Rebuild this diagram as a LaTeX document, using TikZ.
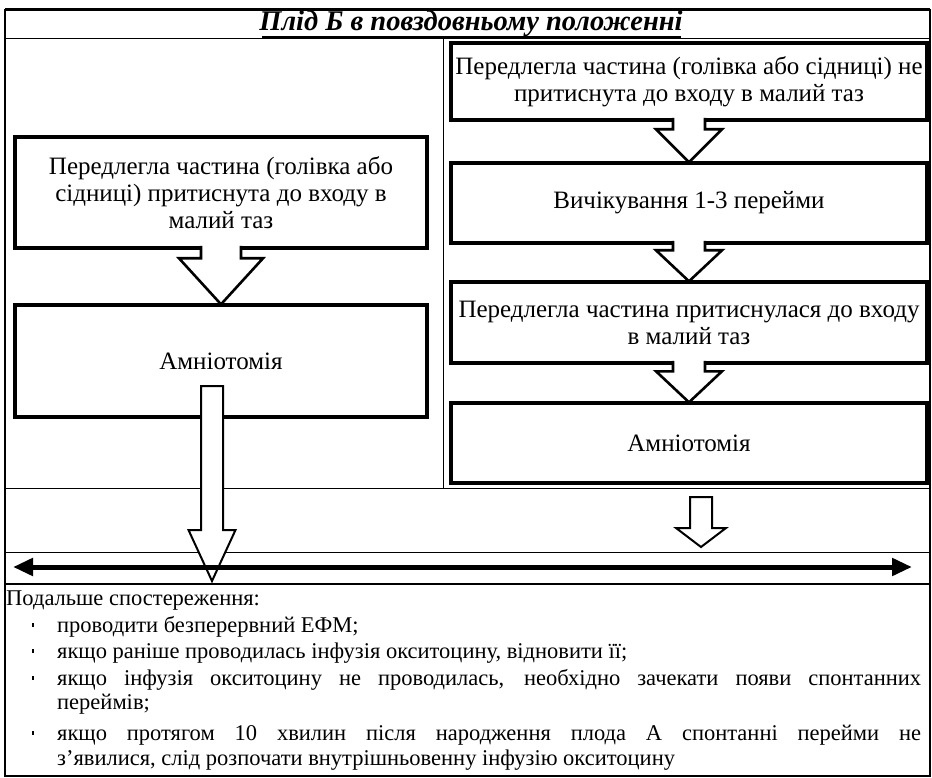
\documentclass[tikz,border=0pt]{standalone}
\usepackage{fontspec}
\setmainfont{Liberation Serif}
\usetikzlibrary{calc,arrows.meta}
\tikzset{
  box/.style={draw, line width=3.4pt, fill=white, align=center,
    font=\fontsize{25}{27}\selectfont, inner sep=2pt},
  barrow/.style={draw, line width=2.6pt, fill=white, line join=miter},
  rule/.style={line width=1pt},
  bodytext/.style={anchor=base west, inner sep=0pt, font=\fontsize{22.5}{26}\selectfont},
  bul/.style={fill, minimum width=2.6pt, minimum height=3.2pt, inner sep=0pt},
}
\newcommand\blockarr[5]{%
  \draw[barrow] ($(#1.south)+(-#3,-3.8)$) -- ($(#2.north)+(-#3,-#5)$) -- ($(#2.north)+(-#4,-#5)$)
    -- ($(#2.north)+(0,1)$) -- ($(#2.north)+(#4,-#5)$) -- ($(#2.north)+(#3,-#5)$) -- ($(#1.south)+(#3,-3.8)$);
}
\begin{document}
\begin{tikzpicture}[x=1pt,y=-1pt]
\useasboundingbox[fill=white] (0,0) rectangle (932,778);
% frame and rules
\draw[line width=1.2pt] (5,10) rectangle (930,776);
\draw[line width=3pt] (5,10) -- (930,10);
\draw[rule] (5,39) -- (930,39);
\draw[rule] (443,39) -- (443,488);
\draw[rule] (5,488) -- (930,488);
\draw[rule] (5,552) -- (930,552);
\draw[line width=2pt] (5,584) -- (930,584);
% title
\node[inner sep=0pt, font=\bfseries\itshape\fontsize{28.5}{32}\selectfont] (title) at (471,24) {Плід Б в повздовньому положенні};
\draw[line width=3pt] (262,37.5) -- (681,37.5);
% left column
\node[box, minimum width=412pt, minimum height=111pt] (L1) at (221,192.5)
  {Передлегла частина (голівка або\\ сідниці) притиснута до входу в\\ малий таз};
\node[box, minimum width=412pt, minimum height=112pt] (L2) at (221,361) {Амніотомія};
% right column
\node[box, minimum width=476pt, minimum height=77pt] (R1) at (689,81.5)
  {Передлегла частина (голівка або сідниці) не\\ притиснута до входу в малий таз};
\node[box, minimum width=476pt, minimum height=80pt] (R2) at (689,203) {Вичікування 1-3 перейми};
\node[box, minimum width=476pt, minimum height=81pt] (R3) at (689,322.5)
  {Передлегла частина притиснулася до входу\\ в малий таз};
\node[box, minimum width=476pt, minimum height=80pt] (R4) at (689,443) {Амніотомія};
% block arrows between boxes
\blockarr{L1}{L2}{20}{42}{45}
\blockarr{R1}{R2}{16}{33}{32}
\blockarr{R2}{R3}{16}{33}{30}
\blockarr{R3}{R4}{16}{33}{30}
% long arrow from left Amniotomy
\coordinate (bA) at (212,386);
\coordinate (bT) at (212,581);
\draw[barrow, line width=2pt] ($(bA)+(-11,0)$) -- ($(bT)+(-11,-51)$) -- ($(bT)+(-23.5,-51)$) -- (bT)
  -- ($(bT)+(23.5,-51)$) -- ($(bT)+(11,-51)$) -- ($(bA)+(11,0)$) -- cycle;
% short arrow on the right
\coordinate (sA) at (701,497);
\coordinate (sT) at (701,547);
\draw[barrow, line width=2pt] ($(sA)+(-11,0)$) -- ($(sT)+(-11,-19)$) -- ($(sT)+(-25,-19)$) -- (sT)
  -- ($(sT)+(25,-19)$) -- ($(sT)+(11,-19)$) -- ($(sA)+(11,0)$) -- cycle;
% double arrow
\coordinate (dl) at (13,567);
\coordinate (dr) at (912,567);
\draw[line width=5pt, {Triangle[length=20pt,width=17pt]}-{Triangle[length=20pt,width=17pt]}] (dl) -- (dr);
% bottom text
\node[bodytext] (t0) at (6,605) {Подальше спостереження:};
\node[bul] (b1) at (33,625) {};
\node[bul] (b2) at (33,651) {};
\node[bul] (b3) at (33,678) {};
\node[bul] (b4) at (33,733) {};
\node[bodytext] (t1) at (57,632) {проводити безперервний ЕФМ;};
\node[bodytext] (t2) at (57,658) {якщо раніше проводилась інфузія окситоцину, відновити її;};
\node[bodytext] (t3) at (57,685) {\makebox[864pt][s]{якщо інфузія окситоцину не проводилась, необхідно зачекати появи спонтанних}};
\node[bodytext] (t3b) at (57,709) {переймів;};
\node[bodytext] (t4) at (57,740) {\makebox[864pt][s]{якщо протягом 10 хвилин після народження плода А спонтанні перейми не}};
\node[bodytext] (t4b) at (57,765) {з’явилися, слід розпочати внутрішньовенну інфузію окситоцину};
\end{tikzpicture}
\end{document}
